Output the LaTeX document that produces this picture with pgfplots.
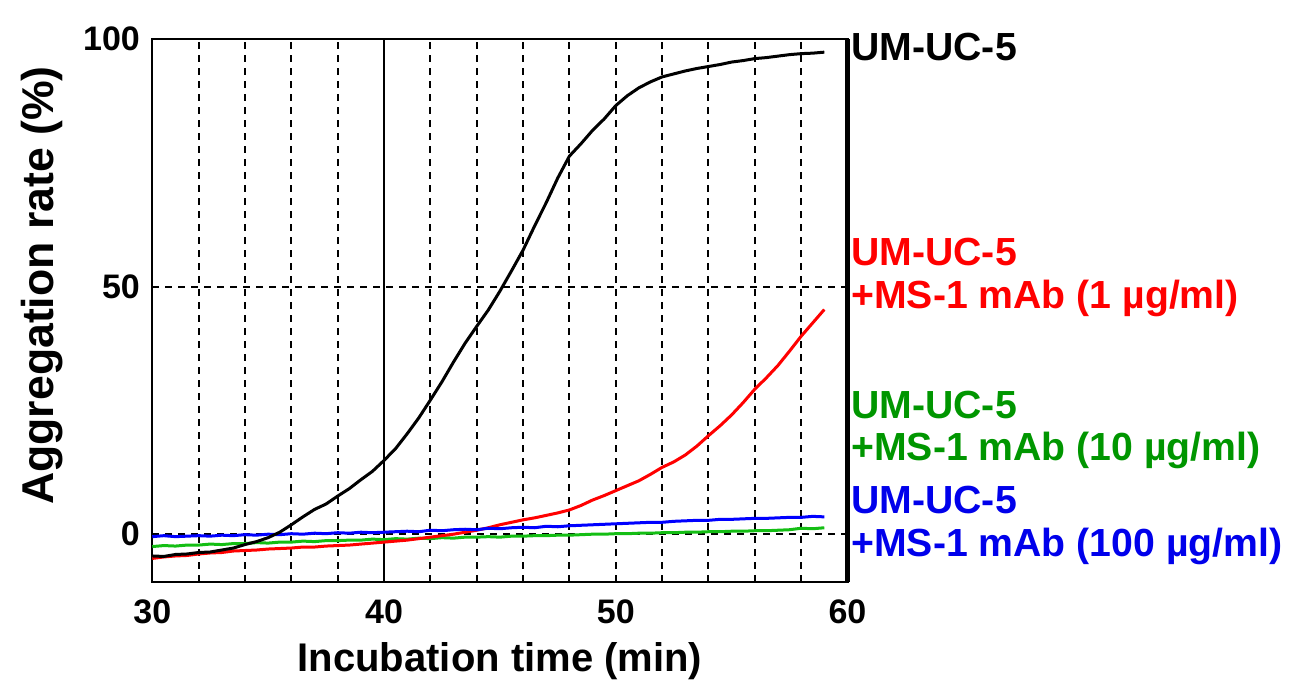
\documentclass[border=0pt]{standalone}
\usepackage{fontspec}
\setmainfont{Liberation Sans}
\usepackage{pgfplots}
\pgfplotsset{compat=1.18}

\definecolor{cRed}{RGB}{255,0,0}
\definecolor{cGreen}{RGB}{20,190,20}
\definecolor{cBlue}{RGB}{0,0,255}
\definecolor{tGreen}{RGB}{0,150,0}
\definecolor{tBlue}{RGB}{0,0,235}

\newcommand{\lab}{\fontsize{19.6}{21}\selectfont\bfseries}

\begin{document}
\begin{tikzpicture}
\begin{axis}[
    at={(0,0)}, anchor=south west,
    scale only axis,
    width=347.6pt, height=271.2pt,
    xmin=30, xmax=60,
    ymin=-9.6, ymax=100,
    axis line style={line width=1pt},
    xtick={30,32,...,60},
    xticklabels={30,,,,,40,,,,,50,,,,,60},
    ytick={0,50,100},
    major tick length=0pt,
    xmajorgrids, ymajorgrids,
    major grid style={black, line width=1pt, dash pattern=on 3.5pt off 3pt},
    /pgf/number format/assume math mode=true,
    tick label style={font=\fontsize{17}{19}\selectfont\bfseries, inner sep=0pt},
    xticklabel style={anchor=base, yshift=-21pt},
    yticklabel style={anchor=east, xshift=-6pt},
    xlabel={Incubation time (min)},
    xlabel style={font=\fontsize{20}{22}\selectfont\bfseries, at={(rel axis cs:0.5,0)}, anchor=base, yshift=-45pt},
    clip=false,
]
% solid reference line at 40 min
\addplot[black, line width=1pt] coordinates {(40,-9.6) (40,100)};

% UM-UC-5 + MS-1 mAb (10 ug/ml)
\addplot[cGreen, line width=1.5pt] coordinates {
(30.0,-2.5) (30.5,-2.3) (31.0,-2.4) (31.5,-2.2) (32.0,-2.2) (32.5,-2.0) (33.0,-2.1) (33.5,-1.9)
(34.0,-1.9) (34.5,-1.7) (35.0,-1.8) (35.5,-1.6) (36.0,-1.6) (36.5,-1.4) (37.0,-1.5) (37.5,-1.3)
(38.0,-1.3) (38.5,-1.2) (39.0,-1.2) (39.5,-1.0) (40.0,-1.1) (40.5,-0.9) (41.0,-1.0) (41.5,-0.8)
(42.0,-0.9) (42.5,-0.7) (43.0,-0.8) (43.5,-0.6) (44.0,-0.6) (44.5,-0.5) (45.0,-0.6) (45.5,-0.4)
(46.0,-0.4) (46.5,-0.3) (47.0,-0.3) (47.5,-0.2) (48.0,-0.2) (48.5,-0.1) (49.0,0.0) (49.5,0.0)
(50.0,0.1) (50.5,0.1) (51.0,0.2) (51.5,0.2) (52.0,0.3) (52.5,0.3) (53.0,0.4) (53.5,0.4)
(54.0,0.5) (54.5,0.5) (55.0,0.6) (55.5,0.6) (56.0,0.7) (56.5,0.7) (57.0,0.8) (57.5,0.9)
(58.0,1.2) (58.5,1.1) (59.0,1.3)
};

% UM-UC-5 + MS-1 mAb (1 ug/ml)
\addplot[cRed, line width=1.5pt] coordinates {
(30.0,-4.9) (30.5,-4.6) (31.0,-4.4) (31.5,-4.3) (32.0,-4.0) (32.5,-3.8) (33.0,-3.7) (33.5,-3.4)
(34.0,-3.3) (34.5,-3.2) (35.0,-3.0) (35.5,-2.9) (36.0,-2.8) (36.5,-2.6) (37.0,-2.6) (37.5,-2.4)
(38.0,-2.3) (38.5,-2.2) (39.0,-2.0) (39.5,-1.8) (40.0,-1.6) (40.5,-1.4) (41.0,-1.2) (41.5,-0.9)
(42.0,-0.6) (42.5,-0.3) (43.0,0.0) (43.5,0.4) (44.0,0.8) (44.5,1.3) (45.0,1.9) (45.5,2.4)
(46.0,2.9) (46.5,3.3) (47.0,3.8) (47.5,4.3) (48.0,4.9) (48.5,5.8) (49.0,6.9) (49.5,7.8)
(50.0,8.8) (50.5,9.8) (51.0,10.8) (51.5,12.1) (52.0,13.5) (52.5,14.6) (53.0,16.0) (53.5,17.8)
(54.0,19.9) (54.5,21.9) (55.0,24.1) (55.5,26.6) (56.0,29.3) (56.5,31.6) (57.0,34.1) (57.5,37.0)
(58.0,40.0) (58.5,42.7) (59.0,45.4)
};

% UM-UC-5 + MS-1 mAb (100 ug/ml)
\addplot[cBlue, line width=1.5pt] coordinates {
(30.0,-0.5) (30.5,-0.3) (31.0,-0.5) (31.5,-0.4) (32.0,-0.3) (32.5,-0.4) (33.0,-0.2) (33.5,-0.3)
(34.0,-0.1) (34.5,-0.2) (35.0,0.0) (35.5,-0.1) (36.0,0.1) (36.5,0.0) (37.0,0.2) (37.5,0.1)
(38.0,0.3) (38.5,0.2) (39.0,0.4) (39.5,0.3) (40.0,0.4) (40.5,0.5) (41.0,0.6) (41.5,0.5)
(42.0,0.8) (42.5,0.7) (43.0,0.9) (43.5,1.0) (44.0,0.9) (44.5,1.2) (45.0,1.1) (45.5,1.3)
(46.0,1.4) (46.5,1.3) (47.0,1.6) (47.5,1.5) (48.0,1.7) (48.5,1.8) (49.0,1.9) (49.5,2.0)
(50.0,2.1) (50.5,2.2) (51.0,2.3) (51.5,2.4) (52.0,2.4) (52.5,2.6) (53.0,2.7) (53.5,2.8)
(54.0,2.8) (54.5,3.0) (55.0,3.0) (55.5,3.1) (56.0,3.2) (56.5,3.2) (57.0,3.3) (57.5,3.4)
(58.0,3.4) (58.5,3.6) (59.0,3.5)
};

% UM-UC-5
\addplot[black, line width=1.5pt] coordinates {
(30.0,-4.4) (30.5,-4.5) (31.0,-4.1) (31.5,-4.0) (32.0,-3.7) (32.5,-3.6) (33.0,-3.2) (33.5,-2.8)
(34.0,-2.1) (34.5,-1.5) (35.0,-0.7) (35.5,0.4) (36.0,1.9) (36.5,3.5) (37.0,5.0) (37.5,6.1)
(38.0,7.7) (38.5,9.2) (39.0,11.0) (39.5,12.7) (40.0,14.9) (40.5,17.3) (41.0,20.3) (41.5,23.5)
(42.0,27.1) (42.5,30.8) (43.0,34.8) (43.5,38.6) (44.0,42.0) (44.5,45.3) (45.0,49.1) (45.5,53.2)
(46.0,57.4) (46.5,62.3) (47.0,67.0) (47.5,72.0) (48.0,76.4) (48.5,78.9) (49.0,81.6) (49.5,83.9)
(50.0,86.6) (50.5,88.6) (51.0,90.2) (51.5,91.4) (52.0,92.4) (52.5,93.0) (53.0,93.6) (53.5,94.1)
(54.0,94.5) (54.5,94.9) (55.0,95.4) (55.5,95.7) (56.0,96.1) (56.5,96.3) (57.0,96.6) (57.5,96.9)
(58.0,97.1) (58.5,97.2) (59.0,97.4)
};

% heavier right frame
\draw[black, line width=2.6pt] (rel axis cs:1,0) -- (rel axis cs:1,1);

% y axis label
\node[xshift=-55pt, rotate=90, anchor=center, inner sep=0pt, font=\fontsize{22.3}{24}\selectfont\bfseries]
  at (rel axis cs:0,0.546) {Aggregation rate (\%)};

% series labels
\node[anchor=base west, inner sep=0pt, font=\lab, black] at (axis cs:60.15,95.8) {UM-UC-5};
\node[anchor=base west, inner sep=0pt, font=\lab, cRed] at (axis cs:60.15,54.3) {UM-UC-5};
\node[anchor=base west, inner sep=0pt, font=\lab, cRed] at (axis cs:60.15,45.6) {+MS-1 mAb (1 µg/ml)};
\node[anchor=base west, inner sep=0pt, font=\lab, tGreen] at (axis cs:60.15,23.4) {UM-UC-5};
\node[anchor=base west, inner sep=0pt, font=\lab, tGreen] at (axis cs:60.15,14.9) {+MS-1 mAb (10 µg/ml)};
\node[anchor=base west, inner sep=0pt, font=\lab, tBlue] at (axis cs:60.15,4.2) {UM-UC-5};
\node[anchor=base west, inner sep=0pt, font=\lab, tBlue] at (axis cs:60.15,-4.6) {+MS-1 mAb (100 µg/ml)};
\end{axis}
\pgfresetboundingbox
\path (-76.15pt,-51.15pt) rectangle (568.85pt,290.85pt);
\end{tikzpicture}
\end{document}
